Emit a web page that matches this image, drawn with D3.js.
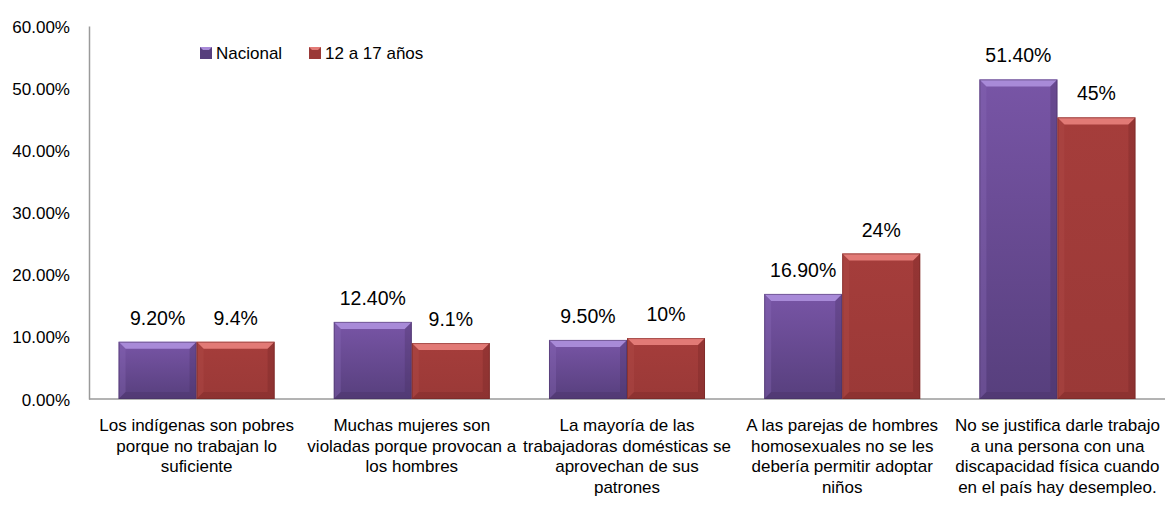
<!DOCTYPE html>
<html>
<head>
<meta charset="utf-8">
<script src="https://cdn.jsdelivr.net/npm/d3@7"></script>
<style>
  body { margin: 0; background: #fff; }
  svg text { font-family: "Liberation Sans", Arial, sans-serif; fill: #000; }
</style>
</head>
<body>
<svg id="chart"></svg>
<script>
// Categories (each one already split in lines as in the picture)
var categories = [
  ["Los indígenas son pobres", "porque no trabajan lo", "suficiente"],
  ["Muchas mujeres son", "violadas porque provocan a", "los hombres"],
  ["La mayoría de las", "trabajadoras domésticas se", "aprovechan de sus", "patrones"],
  ["A las parejas de hombres", "homosexuales no se les", "debería permitir adoptar", "niños"],
  ["No se justifica darle trabajo", "a una persona con una", "discapacidad física cuando", "en el país hay desempleo."]
];

// Series names
var seriesNames = ["Nacional", "12 a 17 años"];

// Values (percent)
var nacional = [9.2, 12.4, 9.5, 16.9, 51.4];
var adolescentes = [9.2, 9.0, 9.8, 23.4, 45.3];

// Data labels as printed in the chart
var nacionalLabels = ["9.20%", "12.40%", "9.50%", "16.90%", "51.40%"];
var adolescentesLabels = ["9.4%", "9.1%", "10%", "24%", "45%"];

// Y axis ticks
var yTicks = [0, 10, 20, 30, 40, 50, 60];

var W = 1165, H = 509;
var margin = {top: 26, bottom: 110, left: 89, right: 0};
var width = W - margin.left - margin.right;
var height = H - margin.top - margin.bottom;

var svg = d3.select("#chart").attr("width", W).attr("height", H);

// colours for the bevelled bars
var palette = [
  {light: "#a88ad8", top: "#7855a6", bottom: "#573f7d", dark: "#45305f", side: "#8a6bb8"},
  {light: "#e27a76", top: "#a53d3b", bottom: "#9a3937", dark: "#6f2524", side: "#b24e4b"}
];

var defs = svg.append("defs");
palette.forEach(function(c, i) {
  var g = defs.append("linearGradient").attr("id", "face" + i)
    .attr("x1", 0).attr("y1", 0).attr("x2", 0).attr("y2", 1);
  g.append("stop").attr("offset", "0%").attr("stop-color", c.top);
  g.append("stop").attr("offset", "100%").attr("stop-color", c.bottom);
});

var chart = svg.append("g")
  .attr("transform", "translate(" + margin.left + "," + margin.top + ")");

var x = d3.scaleBand()
  .domain(d3.range(categories.length))
  .range([0, width])
  .paddingInner(0.275)
  .paddingOuter(0.1375);

var xs = d3.scaleBand()
  .domain([0, 1])
  .range([0, x.bandwidth()]);

var y = d3.scaleLinear()
  .domain([0, 60])
  .range([height, 0]);

// y axis
var yaxis = d3.axisLeft(y).tickValues(yTicks).tickSize(0).tickPadding(19)
  .tickFormat(function(d) { return d3.format(".2f")(d) + "%"; });

var yg = chart.append("g").attr("class", "y axis").call(yaxis);
yg.select(".domain").attr("stroke", "#9a9a9a").attr("stroke-width", 1.5);
yg.selectAll("text").attr("font-size", "17px").attr("dy", "0.36em")
  .style("font-family", "'Liberation Sans', Arial, sans-serif");

// x axis line
chart.append("line")
  .attr("x1", 0).attr("x2", width)
  .attr("y1", y(0)).attr("y2", y(0))
  .attr("stroke", "#9a9a9a").attr("stroke-width", 1.5);

// bevelled bar
function bevelBar(sel, bx, by, bw, bh, ci) {
  var c = palette[ci];
  var b = Math.min(7, bh / 2, bw / 2);
  sel.append("rect")
    .attr("x", bx).attr("y", by).attr("width", bw).attr("height", bh)
    .attr("fill", "url(#face" + ci + ")");
  var pts = function(a) { return a.map(function(p) { return p.join(","); }).join(" "); };
  // top
  sel.append("polygon").attr("fill", c.light)
    .attr("points", pts([[bx, by], [bx + bw, by], [bx + bw - b, by + b], [bx + b, by + b]]));
  // left
  sel.append("polygon").attr("fill", c.side).attr("opacity", 0.35)
    .attr("points", pts([[bx, by], [bx + b, by + b], [bx + b, by + bh - b], [bx, by + bh]]));
  // right
  sel.append("polygon").attr("fill", c.dark).attr("opacity", 0.3)
    .attr("points", pts([[bx + bw, by], [bx + bw, by + bh], [bx + bw - b, by + bh - b], [bx + bw - b, by + b]]));
  // bottom
  sel.append("polygon").attr("fill", c.dark).attr("opacity", 0.3)
    .attr("points", pts([[bx, by + bh], [bx + bw, by + bh], [bx + bw - b, by + bh - b], [bx + b, by + bh - b]]));
  sel.append("rect")
    .attr("x", bx + 0.5).attr("y", by + 0.5).attr("width", bw - 1).attr("height", bh - 1)
    .attr("fill", "none").attr("stroke", c.dark).attr("stroke-opacity", 0.5);
}

var series = [
  {values: nacional, labels: nacionalLabels},
  {values: adolescentes, labels: adolescentesLabels}
];

series.forEach(function(s, si) {
  s.values.forEach(function(v, i) {
    var bx = x(i) + xs(si);
    var by = y(v);
    var g = chart.append("g");
    bevelBar(g, bx, by, xs.bandwidth(), y(0) - by, si);
    chart.append("text")
      .attr("x", bx + xs.bandwidth() / 2)
      .attr("y", by - 17)
      .attr("text-anchor", "middle")
      .attr("font-size", "19.5px")
      .text(s.labels[i]);
  });
});

// category labels
var cat = chart.selectAll(".cat")
  .data(categories)
  .enter()
.append("text")
  .attr("class", "cat")
  .attr("text-anchor", "middle")
  .attr("font-size", "17px")
  .attr("transform", function(d, i) { return "translate(" + (x(i) + x.bandwidth() / 2) + "," + (y(0) + 32) + ")"; });

cat.selectAll("tspan")
  .data(function(d) { return d; })
  .enter()
.append("tspan")
  .attr("x", 0)
  .attr("y", function(d, i) { return i * 20.6; })
  .text(function(d) { return d; });

// legend
var legendX = [200, 309];
seriesNames.forEach(function(name, i) {
  var lg = svg.append("g");
  var c = palette[i];
  lg.append("rect").attr("x", legendX[i]).attr("y", 47).attr("width", 12).attr("height", 12)
    .attr("fill", c.bottom);
  lg.append("polygon").attr("fill", c.light)
    .attr("points", [[legendX[i], 47], [legendX[i] + 12, 47], [legendX[i] + 9, 50], [legendX[i] + 3, 50]].map(function(p) { return p.join(","); }).join(" "));
  lg.append("text")
    .attr("x", legendX[i] + 16)
    .attr("y", 59)
    .attr("font-size", "17px")
    .text(name);
});
</script>
</body>
</html>
